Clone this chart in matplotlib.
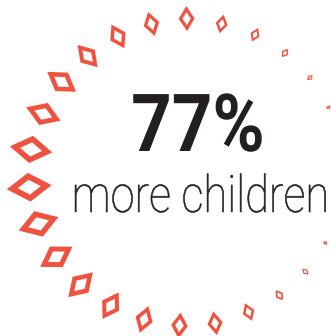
import numpy as np
import matplotlib
matplotlib.use("Agg")
import matplotlib.pyplot as plt
from matplotlib.patches import Polygon
from matplotlib.patheffects import AbstractPathEffect
from matplotlib.transforms import Affine2D

# diamond sizes (outer length in px), from the top going counter-clockwise
sizes = [25, 25, 27, 30, 35, 37, 43, 45, 42, 38, 35, 31, 28, 26, 24, 19, 13, 9, 6,
         0, 0, 0, 6, 8, 11, 15, 19]
big_label = "77%"
small_label = "more children"

RED = "#ef5340"
INK = "#231f20"


class Stretch(AbstractPathEffect):
    # stretch glyphs vertically about the baseline (condensed look)
    def __init__(self, sy, lw=0.0):
        super().__init__()
        self.sy = sy
        self.lw = lw

    def draw_path(self, renderer, gc, tpath, affine, rgbFace=None):
        gc0 = renderer.new_gc()
        gc0.copy_properties(gc)
        if self.lw > 0 and rgbFace is not None:
            gc0.set_linewidth(self.lw)
            gc0.set_foreground(rgbFace)
        renderer.draw_path(gc0, tpath, Affine2D().scale(1, self.sy) + affine, rgbFace)
        gc0.restore()


fig = plt.figure(figsize=(3.31, 3.36), dpi=100)
ax = fig.add_axes([0, 0, 1, 1])
ax.set_xlim(0, 331)
ax.set_ylim(336, 0)
ax.axis('off')

cx, cy = 192, 172
n = len(sizes)
angles = np.deg2rad(92 + 360.0 / n * np.arange(n))

for th, s in zip(angles, sizes):
    if s <= 0:
        continue
    r = 151 + 0.5 * max(s - 20, 0)
    c = np.array([cx + r * np.cos(th), cy - r * np.sin(th)])
    u = np.array([np.cos(th), -np.sin(th)])
    v = np.array([np.sin(th), np.cos(th)])
    a = s / 2.0
    b = a * 0.64
    t = max(0.13 * s, 1.2)
    e = np.hypot(a, b)
    ac = a - t / 2 * e / b
    bc = b - t / 2 * e / a
    pts = [c + ac * u, c + bc * v, c - ac * u, c - bc * v]
    ax.add_patch(Polygon(pts, closed=True, fill=False, edgecolor=RED,
                         linewidth=t * 0.72, joinstyle='miter'))

ax.text(198, 151, big_label, ha='center', va='baseline', fontsize=51,
        family='Roboto', weight='bold', color=INK,
        path_effects=[Stretch(1.13)])
ax.text(200.5, 212, small_label, ha='center', va='baseline', fontsize=31.3,
        family='Roboto', weight='light', color=INK,
        path_effects=[Stretch(1.18, lw=0.4)])

plt.savefig('out.png', dpi=100)
